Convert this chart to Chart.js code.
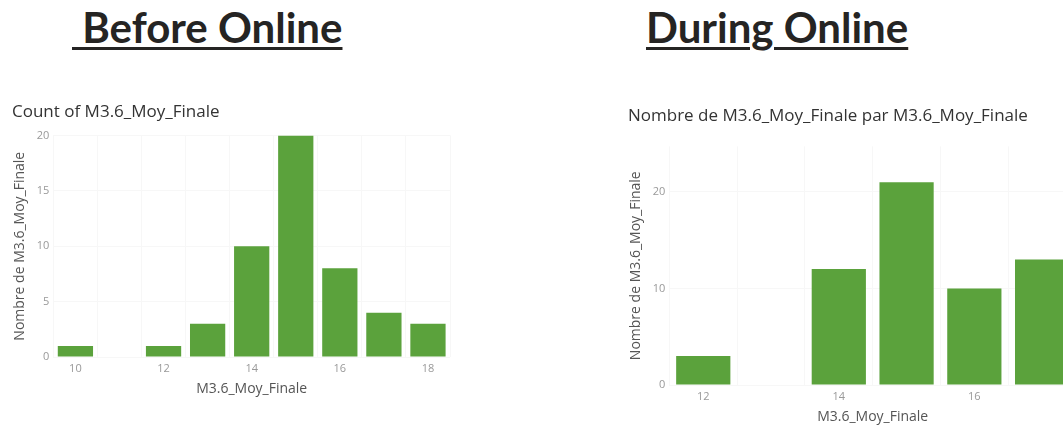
<!DOCTYPE html>
<html><head><meta charset="utf-8">
<script src="https://cdn.jsdelivr.net/npm/chart.js@4.4.1/dist/chart.umd.min.js"></script>
<style>
html,body{margin:0;padding:0;background:#fff;width:1063px;height:425px;overflow:hidden;position:relative;}
.h{position:absolute;font-family:Lato,"Open Sans",sans-serif;font-weight:bold;font-size:42px;line-height:46px;color:#252423;text-decoration:underline;text-decoration-thickness:3px;text-underline-offset:4px;white-space:pre;}
.c{position:absolute;}
</style></head><body>
<div class="h" style="left:72px;top:4px;"> Before Online</div>
<div class="h" style="left:646px;top:4px;">During Online</div>
<div class="c" style="left:0;top:100px;width:460px;height:305px"><canvas id="c1"></canvas></div>
<div class="c" style="left:620px;top:100px;width:470px;height:325px"><canvas id="c2"></canvas></div>
<script>
// Before Online
const beforeCategories = ['10','11','12','13','14','15','16','17','18'];
const beforeCounts = [1,0,1,3,10,20,8,4,3];
const beforeYTicks = [0,5,10,15,20];
// During Online
const duringCategories = ['12','13','14','15','16','17'];
const duringCounts = [3,0,12,21,10,13];
const duringYTicks = [0,10,20];

const FONT = '"Open Sans", Lato, sans-serif';
const BAR = '#5ba23c';
const GRID = '#f7f7f7';

function makeChart(id, cats, vals, yticks, ymax, title, pad, titlePad, tickPad) {
  return new Chart(document.getElementById(id), {
    type: 'bar',
    data: { labels: cats, datasets: [{ data: vals, backgroundColor: BAR, barPercentage: 0.8, categoryPercentage: 1.0 }] },
    options: {
      responsive: true, maintainAspectRatio: false, animation: false,
      layout: { padding: pad },
      plugins: {
        legend: { display: false }, tooltip: { enabled: false },
        title: { display: true, text: title, align: 'start', color: '#333', font: { family: FONT, size: 17, weight: 'normal' }, padding: titlePad }
      },
      scales: {
        x: {
          grid: { display: true, color: GRID, drawTicks: false },
          border: { display: false },
          ticks: { color: '#999', font: { family: FONT, size: 11 }, padding: 5, autoSkip: false, maxRotation: 0,
            callback: function(v) { const l = this.getLabelForValue(v); return (+l) % 2 === 0 ? l : ''; } },
          title: { display: true, text: 'M3.6_Moy_Finale', color: '#555', font: { family: FONT, size: 14 }, padding: { top: 0, bottom: 0 } }
        },
        y: {
          min: 0, max: ymax,
          afterBuildTicks: s => { s.ticks = yticks.map(v => ({ value: v })); },
          grid: { color: GRID, drawTicks: false },
          border: { display: false },
          ticks: { color: '#999', font: { family: FONT, size: 11 }, padding: tickPad },
          title: { display: true, text: 'Nombre de M3.6_Moy_Finale', color: '#555', font: { family: FONT, size: 14 }, padding: { top: 0, bottom: 4 } }
        }
      }
    }
  });
}
makeChart('c1', beforeCategories, beforeCounts, beforeYTicks, 20, 'Count of M3.6_Moy_Finale', { left: 12, right: 10, top: 0, bottom: 8 }, { top: 2, bottom: 13 }, 4);
makeChart('c2', duringCategories, duringCounts, duringYTicks, 24.7, 'Nombre de M3.6_Moy_Finale par M3.6_Moy_Finale', { left: 8, right: 14, top: 0, bottom: 0 }, { top: 6, bottom: 20 }, 4);
</script>
</body></html>
